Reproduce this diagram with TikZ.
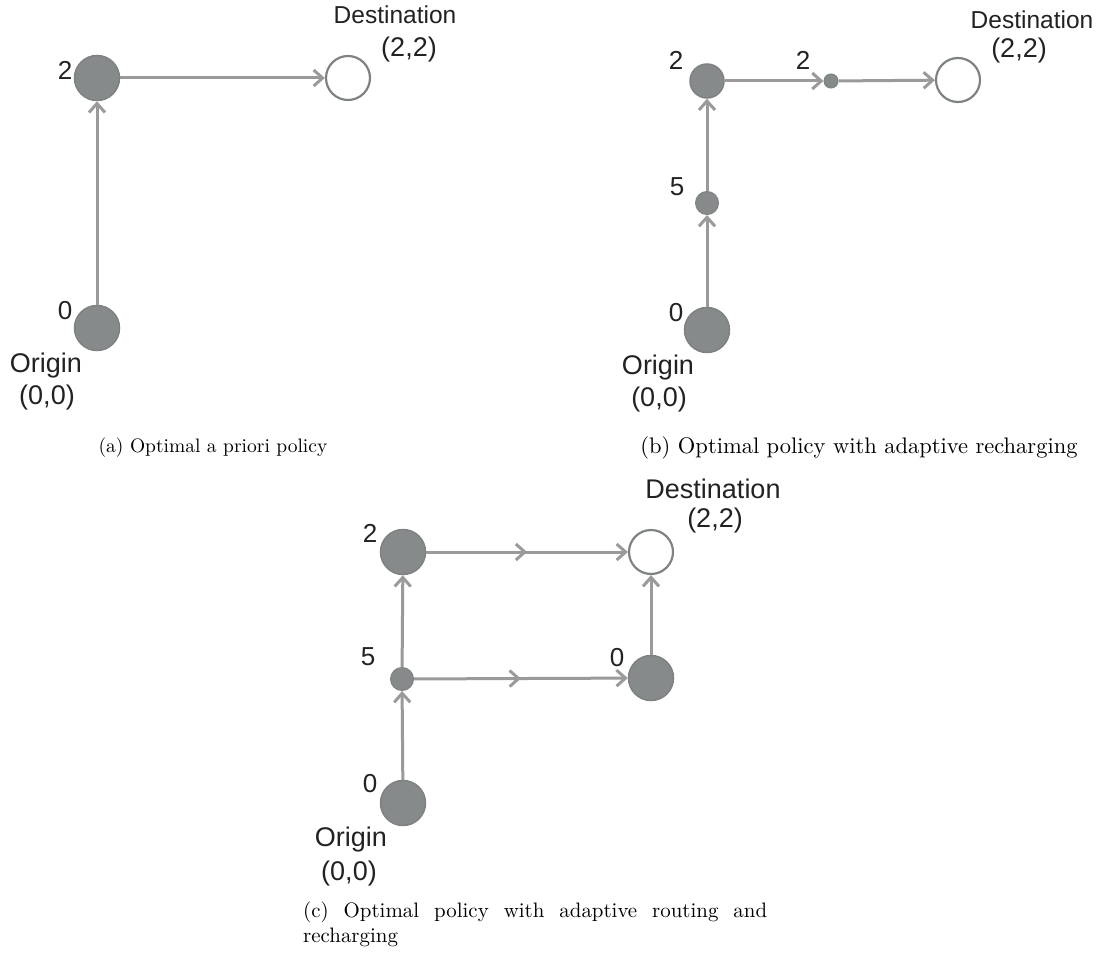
\documentclass[tikz,border=0pt]{standalone}
\usepackage{fontspec}
\newfontfamily\labfont{Liberation Sans}
\newfontfamily\capfont{lmroman10-regular}[Extension=.otf]
\usetikzlibrary{arrows.meta,decorations.markings}
\definecolor{nodegray}{HTML}{878A8A}
\definecolor{bordergray}{HTML}{7E8282}
\definecolor{edgegray}{HTML}{9A9A9A}
\definecolor{txt}{HTML}{222222}
\begin{document}
\begin{tikzpicture}[x=1pt,y=-1pt,
  bignode/.style={circle, fill=nodegray, draw=bordergray, line width=1.5pt, inner sep=0pt, minimum size=45pt},
  midnode/.style={bignode, minimum size=34pt},
  smallnode/.style={circle, fill=nodegray, draw=bordergray, line width=1pt, inner sep=0pt, minimum size=23pt},
  tinynode/.style={circle, fill=nodegray, draw=bordergray, line width=1pt, inner sep=0pt, minimum size=14pt},
  destnode/.style={circle, fill=white, draw=bordergray, line width=2.2pt, inner sep=0pt, minimum size=44pt},
  num/.style={font=\labfont\fontsize{26}{30}\selectfont, text=txt, inner sep=0pt},
  lbl/.style={font=\labfont\fontsize{24.5}{28}\selectfont, text=txt, inner sep=0pt},
  lblb/.style={font=\labfont\fontsize{27}{31}\selectfont, text=txt, inner sep=0pt},
  capa/.style={font=\capfont\fontsize{19.5}{24}\selectfont, inner sep=0pt},
  capb/.style={font=\capfont\fontsize{22.5}{26}\selectfont, inner sep=0pt},
  capc/.style={font=\capfont\fontsize{20.9}{25}\selectfont, inner sep=0pt},
  edge/.style={draw=edgegray, line width=3pt, -{Straight Barb[length=9pt,width=16pt]}},
  midarrow/.style={postaction=decorate, decoration={markings, mark=at position 0.5 with {\arrow{Straight Barb[length=9pt,width=16pt]}}}}
]
\path[use as bounding box] (0,0) rectangle (1097,955);

% ---------- (a) ----------
\node[bignode] (a0) at (97,328) {};
\node[bignode] (a2) at (97,78) {};
\node[destnode] (ad) at (348,78) {};
\draw[edge] (a0) -- (a2);
\draw[edge] (a2) -- (ad);
\node[num] (a0l) at (65,311) {0};
\node[num] (a2l) at (65,70) {2};
\node[lbl] (adt) at (395,15) {Destination};
\node[lblb] (adc) at (409,50) {(2,2)};
\node[lblb] (aot) at (46,366) {Origin};
\node[lblb] (aoc) at (47,398) {(0,0)};
\node[capa] (acap) at (213,448) {(a) Optimal a priori policy};

% ---------- (b) ----------
\node[bignode] (b0) at (707,330) {};
\node[smallnode] (b5) at (707,203) {};
\node[midnode] (b2) at (707,81) {};
\node[tinynode] (bt) at (831,81) {};
\node[destnode] (bd) at (958,80) {};
\draw[edge] (b0) -- (b5);
\draw[edge] (b5) -- (b2);
\draw[edge] (b2) -- (bt);
\draw[edge] (bt) -- (bd);
\node[num] (b0l) at (676,313) {0};
\node[num] (b5l) at (677,187) {5};
\node[num] (b2l) at (676,60) {2};
\node[num] (btl) at (803,60) {2};
\node[lbl] (bdt) at (1032,20) {Destination};
\node[lblb] (bdc) at (1019,51) {(2,2)};
\node[lblb] (bot) at (658,368) {Origin};
\node[lblb] (boc) at (659,400) {(0,0)};
\node[capb] (bcap) at (859,448) {(b) Optimal policy with adaptive recharging};

% ---------- (c) ----------
\node[bignode] (c0) at (403,803) {};
\node[smallnode] (c5) at (402,679) {};
\node[bignode] (c2) at (403,552) {};
\node[destnode] (cd) at (651,552) {};
\node[bignode] (cr) at (651,678) {};
\draw[edge] (c0) -- (c5);
\draw[edge] (c5) -- (c2);
\draw[edge, midarrow] (c2) -- (cd);
\draw[edge, midarrow] (c5) -- (cr);
\draw[edge] (cr) -- (cd);
\node[num] (c0l) at (370,784) {0};
\node[num] (c5l) at (368,657) {5};
\node[num] (c2l) at (370,533) {2};
\node[num] (crl) at (617,658) {0};
\node[lblb] (cdt) at (713,489) {Destination};
\node[lblb] (cdc) at (715,521) {(2,2)};
\node[lblb] (cot) at (351,840) {Origin};
\node[lblb] (coc) at (349,874) {(0,0)};
\node[capc, anchor=north west, text width=464pt, align=justify] (ccap) at (303,902) {(c) Optimal policy with adaptive routing and recharging};
\end{tikzpicture}
\end{document}
